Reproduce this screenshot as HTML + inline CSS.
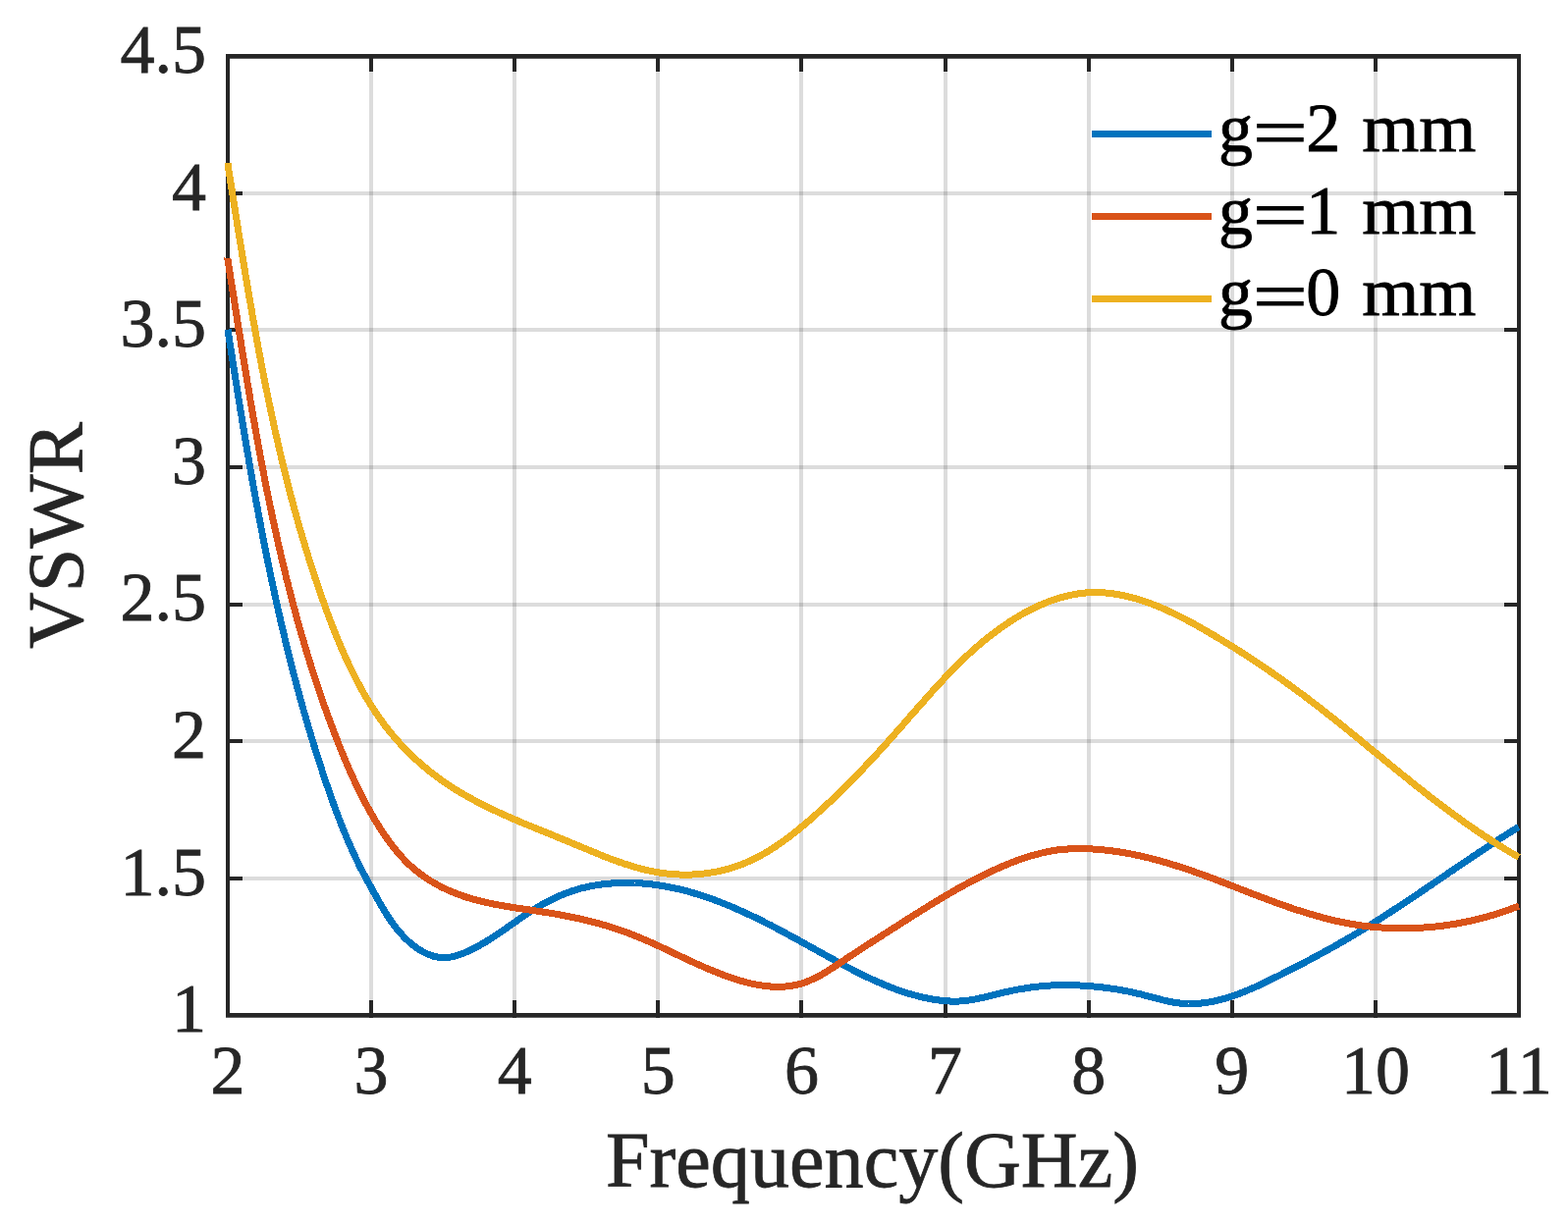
<!DOCTYPE html><html><head><meta charset="utf-8"><title>VSWR</title><style>html,body{margin:0;padding:0;background:#fff;overflow:hidden}svg{display:block}</style></head><body><svg width="1597" height="1248" viewBox="0 0 1597 1248">
<rect width="1597" height="1248" fill="#fff"/>
<path d="M378,59.7V1032.1 M524,59.7V1032.1 M670,59.7V1032.1 M816,59.7V1032.1 M963,59.7V1032.1 M1109,59.7V1032.1 M1255,59.7V1032.1 M1401,59.7V1032.1" stroke="#262626" stroke-opacity="0.16" stroke-width="4" fill="none"/>
<path d="M234,895H1545 M234,755H1545 M234,616H1545 M234,476H1545 M234,336H1545 M234,197H1545" stroke="#262626" stroke-opacity="0.16" stroke-width="4" fill="none"/>
<path d="M378,1037V1019 M378,55V73 M524,1037V1019 M524,55V73 M670,1037V1019 M670,55V73 M816,1037V1019 M816,55V73 M963,1037V1019 M963,55V73 M1109,1037V1019 M1109,55V73 M1255,1037V1019 M1255,55V73 M1401,1037V1019 M1401,55V73 M230,895H247 M1549,895H1532 M230,755H247 M1549,755H1532 M230,616H247 M1549,616H1532 M230,476H247 M1549,476H1532 M230,336H247 M1549,336H1532 M230,197H247 M1549,197H1532" stroke="#262626" stroke-width="4" fill="none"/>
<path d="M230,55H1549V59.7H230Z M230,1032.1H1549V1036.8H230Z M230,55H234V1036.8H230Z M1545,55H1549V1036.8H1545Z" fill="#262626"/>
<path d="M232.0,335.6 L232.2,337.1 L232.4,338.7 L232.7,340.2 L232.9,341.8 L233.2,343.3 L233.4,344.9 L233.6,346.4 L233.9,348.0 L234.1,349.5 L234.4,351.1 L234.6,352.6 L234.9,354.2 L235.1,355.7 L235.3,357.3 L235.6,358.8 L235.8,360.4 L236.1,361.9 L236.3,363.5 L236.5,365.0 L236.8,366.6 L237.0,368.1 L237.3,369.7 L237.5,371.2 L237.8,372.8 L238.0,374.4 L238.3,375.9 L238.5,377.5 L238.7,379.0 L239.0,380.6 L239.2,382.1 L239.5,383.7 L239.7,385.2 L240.0,386.8 L240.2,388.3 L240.5,389.9 L240.7,391.4 L241.0,393.0 L241.2,394.5 L241.4,396.1 L241.7,397.6 L241.9,399.2 L242.2,400.7 L242.4,402.3 L242.7,403.8 L242.9,405.4 L243.2,407.0 L243.4,408.5 L243.7,410.1 L243.9,411.6 L244.2,413.2 L244.4,414.7 L244.7,416.3 L244.9,417.8 L245.2,419.4 L245.4,420.9 L245.7,422.5 L246.0,424.0 L246.2,425.6 L246.5,427.1 L246.7,428.7 L247.0,430.3 L247.2,431.8 L247.5,433.4 L247.7,434.9 L248.0,436.5 L248.3,438.0 L248.5,439.6 L248.8,441.1 L249.0,442.7 L249.3,444.2 L249.6,445.8 L249.8,447.3 L250.1,448.9 L250.3,450.5 L250.6,452.0 L250.9,453.6 L251.1,455.1 L251.4,456.7 L251.6,458.2 L251.9,459.8 L252.2,461.3 L252.4,462.9 L252.7,464.4 L253.0,466.0 L253.2,467.5 L253.5,469.1 L253.8,470.6 L254.0,472.2 L254.3,473.8 L254.6,475.3 L254.9,476.9 L255.1,478.4 L255.4,480.0 L255.7,481.5 L255.9,483.1 L256.2,484.6 L256.5,486.2 L256.8,487.7 L257.0,489.3 L257.3,490.8 L257.6,492.4 L257.9,493.9 L258.1,495.5 L258.4,497.0 L258.7,498.6 L259.0,500.1 L259.3,501.7 L259.5,503.2 L259.8,504.8 L260.1,506.3 L260.4,507.9 L260.7,509.5 L260.9,511.0 L261.2,512.6 L261.5,514.1 L261.8,515.7 L262.1,517.2 L262.4,518.8 L262.7,520.3 L263.0,521.9 L263.2,523.4 L263.5,525.0 L263.8,526.5 L264.1,528.1 L264.4,529.6 L264.7,531.2 L265.0,532.7 L265.3,534.3 L265.6,535.8 L265.9,537.4 L266.2,538.9 L266.5,540.4 L266.8,542.0 L267.1,543.5 L267.4,545.1 L267.7,546.6 L268.0,548.2 L268.3,549.7 L268.6,551.3 L268.9,552.8 L269.2,554.4 L269.5,555.9 L269.8,557.5 L270.1,559.0 L270.4,560.6 L270.7,562.1 L271.0,563.7 L271.4,565.2 L271.7,566.7 L272.0,568.3 L272.3,569.8 L272.6,571.4 L272.9,572.9 L273.2,574.5 L273.6,576.0 L273.9,577.6 L274.2,579.1 L274.5,580.6 L274.8,582.2 L275.2,583.7 L275.5,585.3 L275.8,586.8 L276.1,588.4 L276.5,589.9 L276.8,591.4 L277.1,593.0 L277.4,594.5 L277.8,596.1 L278.1,597.6 L278.4,599.2 L278.8,600.7 L279.1,602.2 L279.4,603.8 L279.8,605.3 L280.1,606.9 L280.4,608.4 L280.8,609.9 L281.1,611.5 L281.5,613.0 L281.8,614.6 L282.1,616.1 L282.5,617.6 L282.8,619.2 L283.2,620.7 L283.5,622.2 L283.9,623.8 L284.2,625.3 L284.6,626.8 L284.9,628.4 L285.3,629.9 L285.6,631.5 L286.0,633.0 L286.3,634.5 L286.7,636.1 L287.1,637.6 L287.4,639.1 L287.8,640.7 L288.1,642.2 L288.5,643.7 L288.9,645.3 L289.2,646.8 L289.6,648.3 L290.0,649.9 L290.3,651.4 L290.7,652.9 L291.1,654.5 L291.4,656.0 L291.8,657.5 L292.2,659.0 L292.6,660.6 L292.9,662.1 L293.3,663.6 L293.7,665.2 L294.1,666.7 L294.4,668.2 L294.8,669.7 L295.2,671.3 L295.6,672.8 L296.0,674.3 L296.4,675.8 L296.8,677.4 L297.1,678.9 L297.5,680.4 L297.9,681.9 L298.3,683.5 L298.7,685.0 L299.1,686.5 L299.5,688.0 L299.9,689.6 L300.3,691.1 L300.7,692.6 L301.1,694.1 L301.5,695.6 L301.9,697.2 L302.3,698.7 L302.7,700.2 L303.1,701.7 L303.6,703.2 L304.0,704.8 L304.4,706.3 L304.8,707.8 L305.2,709.3 L305.6,710.8 L306.1,712.4 L306.5,713.9 L306.9,715.4 L307.3,716.9 L307.7,718.4 L308.2,719.9 L308.6,721.4 L309.0,723.0 L309.4,724.5 L309.9,726.0 L310.3,727.5 L310.7,729.0 L311.2,730.5 L311.6,732.0 L312.1,733.5 L312.5,735.0 L312.9,736.6 L313.4,738.1 L313.8,739.6 L314.3,741.1 L314.7,742.6 L315.2,744.1 L315.6,745.6 L316.1,747.1 L316.5,748.6 L317.0,750.1 L317.4,751.6 L317.9,753.1 L318.3,754.6 L318.8,756.1 L319.3,757.6 L319.7,759.1 L320.2,760.6 L320.7,762.2 L321.1,763.7 L321.6,765.2 L322.1,766.7 L322.5,768.2 L323.0,769.7 L323.5,771.2 L324.0,772.6 L324.5,774.1 L324.9,775.6 L325.4,777.1 L325.9,778.6 L326.4,780.1 L326.9,781.6 L327.4,783.1 L327.9,784.6 L328.3,786.1 L328.8,787.6 L329.3,789.1 L329.8,790.6 L330.3,792.1 L330.8,793.6 L331.3,795.1 L331.8,796.5 L332.3,798.0 L332.8,799.5 L333.4,801.0 L333.9,802.5 L334.4,804.0 L334.9,805.5 L335.4,807.0 L335.9,808.4 L336.4,809.9 L337.0,811.4 L337.5,812.9 L338.0,814.4 L338.5,815.9 L339.1,817.3 L339.6,818.8 L340.1,820.3 L340.7,821.8 L341.2,823.2 L341.8,824.7 L342.3,826.2 L342.9,827.7 L343.4,829.1 L344.0,830.6 L344.5,832.1 L345.1,833.5 L345.7,835.0 L346.2,836.5 L346.8,837.9 L347.4,839.4 L347.9,840.9 L348.5,842.3 L349.1,843.8 L349.7,845.2 L350.3,846.7 L350.9,848.1 L351.5,849.6 L352.1,851.0 L352.7,852.5 L353.3,853.9 L353.9,855.4 L354.5,856.8 L355.2,858.3 L355.8,859.7 L356.4,861.1 L357.0,862.6 L357.7,864.0 L358.3,865.4 L359.0,866.9 L359.6,868.3 L360.3,869.7 L361.0,871.2 L361.6,872.6 L362.3,874.0 L363.0,875.4 L363.6,876.8 L364.3,878.2 L365.0,879.6 L365.7,881.1 L366.4,882.5 L367.1,883.9 L367.8,885.3 L368.6,886.7 L369.3,888.1 L370.0,889.5 L370.7,890.8 L371.5,892.2 L372.2,893.6 L373.0,895.0 L373.7,896.4 L374.5,897.8 L375.3,899.1 L376.0,900.5 L376.8,901.9 L377.6,903.3 L378.3,904.7 L379.1,906.1 L379.9,907.5 L380.6,908.9 L381.4,910.3 L382.2,911.7 L382.9,913.1 L383.7,914.5 L384.5,915.9 L385.3,917.2 L386.1,918.6 L386.9,920.0 L387.7,921.4 L388.5,922.8 L389.3,924.2 L390.1,925.6 L390.9,926.9 L391.8,928.3 L392.6,929.7 L393.4,931.0 L394.3,932.4 L395.2,933.7 L396.0,935.0 L396.9,936.4 L397.8,937.7 L398.7,939.0 L399.6,940.3 L400.6,941.5 L401.5,942.8 L402.5,944.1 L403.4,945.3 L404.4,946.6 L405.4,947.8 L406.4,949.0 L407.4,950.2 L408.5,951.4 L409.5,952.5 L410.6,953.7 L411.7,954.8 L412.8,955.9 L413.9,957.0 L415.1,958.1 L416.2,959.2 L417.4,960.2 L418.6,961.2 L419.8,962.2 L421.1,963.2 L422.3,964.2 L423.6,965.1 L424.9,966.0 L426.2,966.9 L427.6,967.8 L428.9,968.6 L430.3,969.4 L431.7,970.1 L433.0,970.8 L434.5,971.5 L435.9,972.1 L437.3,972.7 L438.7,973.2 L440.2,973.7 L441.6,974.2 L443.1,974.5 L444.6,974.9 L446.1,975.1 L447.6,975.3 L449.0,975.5 L450.5,975.6 L452.0,975.6 L453.6,975.6 L455.1,975.5 L456.6,975.3 L458.1,975.1 L459.6,974.9 L461.1,974.6 L462.6,974.2 L464.1,973.8 L465.6,973.4 L467.1,972.9 L468.6,972.4 L470.1,971.9 L471.6,971.3 L473.1,970.7 L474.6,970.1 L476.0,969.4 L477.5,968.7 L479.0,968.1 L480.4,967.4 L481.8,966.7 L483.3,965.9 L484.7,965.2 L486.1,964.4 L487.5,963.7 L488.9,962.9 L490.2,962.1 L491.6,961.3 L493.0,960.5 L494.4,959.7 L495.7,958.9 L497.1,958.0 L498.4,957.2 L499.7,956.3 L501.1,955.5 L502.4,954.6 L503.7,953.8 L505.0,952.9 L506.3,952.0 L507.7,951.1 L509.0,950.2 L510.3,949.3 L511.6,948.4 L512.9,947.5 L514.2,946.6 L515.5,945.7 L516.8,944.8 L518.1,943.9 L519.3,943.0 L520.6,942.1 L521.9,941.2 L523.2,940.3 L524.5,939.4 L525.8,938.5 L527.1,937.6 L528.4,936.7 L529.7,935.8 L531.0,934.9 L532.3,934.0 L533.6,933.1 L534.9,932.3 L536.3,931.4 L537.6,930.5 L538.9,929.6 L540.2,928.8 L541.6,927.9 L542.9,927.1 L544.3,926.3 L545.6,925.4 L547.0,924.6 L548.3,923.8 L549.7,923.0 L551.1,922.2 L552.4,921.4 L553.8,920.7 L555.2,919.9 L556.6,919.2 L558.0,918.4 L559.4,917.7 L560.8,917.0 L562.2,916.3 L563.6,915.6 L565.0,914.9 L566.5,914.2 L567.9,913.6 L569.3,912.9 L570.8,912.3 L572.2,911.7 L573.7,911.1 L575.2,910.5 L576.6,910.0 L578.1,909.4 L579.6,908.9 L581.1,908.3 L582.5,907.8 L584.0,907.4 L585.5,906.9 L587.0,906.4 L588.6,906.0 L590.1,905.6 L591.6,905.1 L593.1,904.7 L594.6,904.4 L596.2,904.0 L597.7,903.6 L599.3,903.3 L600.8,903.0 L602.3,902.7 L603.9,902.4 L605.5,902.1 L607.0,901.8 L608.6,901.6 L610.1,901.4 L611.7,901.1 L613.3,900.9 L614.8,900.7 L616.4,900.5 L618.0,900.4 L619.6,900.2 L621.1,900.1 L622.7,900.0 L624.3,899.8 L625.9,899.7 L627.5,899.6 L629.0,899.6 L630.6,899.5 L632.2,899.5 L633.8,899.4 L635.4,899.4 L637.0,899.4 L638.5,899.4 L640.1,899.4 L641.7,899.4 L643.3,899.4 L644.9,899.5 L646.5,899.6 L648.0,899.6 L649.6,899.7 L651.2,899.8 L652.8,899.9 L654.3,900.0 L655.9,900.1 L657.5,900.3 L659.0,900.4 L660.6,900.6 L662.2,900.7 L663.7,900.9 L665.3,901.1 L666.8,901.3 L668.4,901.5 L669.9,901.7 L671.5,902.0 L673.0,902.2 L674.6,902.5 L676.1,902.7 L677.6,903.0 L679.2,903.3 L680.7,903.6 L682.2,903.9 L683.8,904.2 L685.3,904.5 L686.8,904.8 L688.3,905.1 L689.9,905.5 L691.4,905.8 L692.9,906.2 L694.4,906.6 L695.9,906.9 L697.4,907.3 L698.9,907.7 L700.4,908.1 L701.9,908.5 L703.4,909.0 L704.9,909.4 L706.4,909.8 L707.9,910.3 L709.4,910.7 L710.9,911.2 L712.4,911.6 L713.9,912.1 L715.4,912.6 L716.8,913.1 L718.3,913.6 L719.8,914.1 L721.3,914.6 L722.7,915.1 L724.2,915.6 L725.7,916.2 L727.2,916.7 L728.6,917.2 L730.1,917.8 L731.6,918.4 L733.0,918.9 L734.5,919.5 L735.9,920.1 L737.4,920.6 L738.8,921.2 L740.3,921.8 L741.8,922.4 L743.2,923.0 L744.7,923.6 L746.1,924.2 L747.5,924.9 L749.0,925.5 L750.4,926.1 L751.9,926.8 L753.3,927.4 L754.7,928.0 L756.2,928.7 L757.6,929.3 L759.1,930.0 L760.5,930.7 L761.9,931.3 L763.3,932.0 L764.8,932.7 L766.2,933.4 L767.6,934.0 L769.1,934.7 L770.5,935.4 L771.9,936.1 L773.3,936.8 L774.7,937.5 L776.2,938.2 L777.6,938.9 L779.0,939.7 L780.4,940.4 L781.8,941.1 L783.2,941.8 L784.7,942.5 L786.1,943.3 L787.5,944.0 L788.9,944.7 L790.3,945.5 L791.7,946.2 L793.1,947.0 L794.5,947.7 L795.9,948.5 L797.3,949.2 L798.7,950.0 L800.1,950.7 L801.5,951.5 L802.9,952.2 L804.3,953.0 L805.7,953.7 L807.1,954.5 L808.5,955.3 L809.9,956.0 L811.3,956.8 L812.7,957.5 L814.1,958.3 L815.5,959.1 L816.9,959.9 L818.3,960.6 L819.7,961.4 L821.1,962.2 L822.4,962.9 L823.8,963.7 L825.2,964.5 L826.6,965.2 L828.0,966.0 L829.4,966.8 L830.8,967.6 L832.2,968.3 L833.6,969.1 L834.9,969.9 L836.3,970.6 L837.7,971.4 L839.1,972.2 L840.5,973.0 L841.9,973.7 L843.2,974.5 L844.6,975.3 L846.0,976.0 L847.4,976.8 L848.8,977.5 L850.2,978.3 L851.5,979.1 L852.9,979.8 L854.3,980.6 L855.7,981.3 L857.1,982.1 L858.5,982.8 L859.9,983.6 L861.2,984.3 L862.6,985.0 L864.0,985.8 L865.4,986.5 L866.8,987.2 L868.2,988.0 L869.6,988.7 L871.0,989.4 L872.4,990.1 L873.8,990.8 L875.2,991.5 L876.6,992.2 L878.0,992.9 L879.4,993.6 L880.8,994.3 L882.2,995.0 L883.6,995.6 L885.0,996.3 L886.4,997.0 L887.8,997.6 L889.3,998.3 L890.7,998.9 L892.1,999.6 L893.5,1000.2 L895.0,1000.8 L896.4,1001.4 L897.8,1002.0 L899.2,1002.7 L900.7,1003.3 L902.1,1003.8 L903.6,1004.4 L905.0,1005.0 L906.5,1005.6 L907.9,1006.1 L909.4,1006.7 L910.8,1007.2 L912.3,1007.8 L913.7,1008.3 L915.2,1008.8 L916.7,1009.3 L918.2,1009.8 L919.6,1010.3 L921.1,1010.8 L922.6,1011.3 L924.1,1011.8 L925.6,1012.2 L927.1,1012.7 L928.6,1013.1 L930.1,1013.5 L931.6,1013.9 L933.1,1014.3 L934.6,1014.7 L936.2,1015.1 L937.7,1015.5 L939.2,1015.9 L940.8,1016.2 L942.3,1016.6 L943.9,1016.9 L945.4,1017.2 L947.0,1017.5 L948.5,1017.8 L950.1,1018.1 L951.6,1018.3 L953.2,1018.6 L954.8,1018.8 L956.4,1019.0 L957.9,1019.2 L959.5,1019.4 L961.1,1019.6 L962.7,1019.7 L964.2,1019.8 L965.8,1019.9 L967.4,1020.0 L969.0,1020.1 L970.5,1020.1 L972.1,1020.1 L973.7,1020.1 L975.3,1020.1 L976.8,1020.0 L978.4,1019.9 L980.0,1019.8 L981.5,1019.7 L983.1,1019.5 L984.6,1019.3 L986.2,1019.1 L987.8,1018.9 L989.3,1018.7 L990.9,1018.4 L992.4,1018.1 L994.0,1017.8 L995.5,1017.5 L997.1,1017.2 L998.6,1016.8 L1000.1,1016.5 L1001.7,1016.1 L1003.2,1015.8 L1004.8,1015.4 L1006.3,1015.0 L1007.8,1014.6 L1009.4,1014.2 L1010.9,1013.9 L1012.5,1013.5 L1014.0,1013.1 L1015.5,1012.7 L1017.1,1012.3 L1018.6,1011.9 L1020.2,1011.6 L1021.7,1011.2 L1023.2,1010.9 L1024.8,1010.5 L1026.3,1010.2 L1027.9,1009.8 L1029.4,1009.5 L1031.0,1009.2 L1032.5,1008.9 L1034.1,1008.6 L1035.6,1008.3 L1037.2,1008.0 L1038.7,1007.7 L1040.3,1007.5 L1041.8,1007.2 L1043.4,1007.0 L1044.9,1006.7 L1046.5,1006.5 L1048.0,1006.3 L1049.6,1006.0 L1051.1,1005.8 L1052.7,1005.6 L1054.2,1005.4 L1055.8,1005.3 L1057.4,1005.1 L1058.9,1004.9 L1060.5,1004.8 L1062.1,1004.6 L1063.6,1004.5 L1065.2,1004.4 L1066.8,1004.2 L1068.3,1004.1 L1069.9,1004.0 L1071.5,1003.9 L1073.0,1003.9 L1074.6,1003.8 L1076.2,1003.7 L1077.8,1003.7 L1079.3,1003.6 L1080.9,1003.6 L1082.5,1003.6 L1084.1,1003.6 L1085.7,1003.6 L1087.2,1003.6 L1088.8,1003.6 L1090.4,1003.6 L1092.0,1003.7 L1093.6,1003.7 L1095.2,1003.8 L1096.7,1003.8 L1098.3,1003.9 L1099.9,1004.0 L1101.5,1004.1 L1103.1,1004.2 L1104.6,1004.3 L1106.2,1004.4 L1107.8,1004.5 L1109.3,1004.6 L1110.9,1004.7 L1112.5,1004.9 L1114.0,1005.0 L1115.6,1005.2 L1117.2,1005.3 L1118.7,1005.5 L1120.3,1005.7 L1121.8,1005.8 L1123.4,1006.0 L1124.9,1006.2 L1126.4,1006.4 L1128.0,1006.6 L1129.5,1006.8 L1131.1,1007.0 L1132.6,1007.2 L1134.1,1007.4 L1135.7,1007.7 L1137.2,1007.9 L1138.7,1008.1 L1140.2,1008.4 L1141.8,1008.7 L1143.3,1008.9 L1144.8,1009.2 L1146.4,1009.5 L1147.9,1009.8 L1149.4,1010.1 L1151.0,1010.4 L1152.5,1010.8 L1154.0,1011.1 L1155.6,1011.4 L1157.1,1011.8 L1158.7,1012.2 L1160.2,1012.5 L1161.8,1012.9 L1163.4,1013.3 L1164.9,1013.7 L1166.5,1014.2 L1168.1,1014.6 L1169.6,1015.0 L1171.2,1015.4 L1172.8,1015.8 L1174.3,1016.3 L1175.9,1016.7 L1177.5,1017.1 L1179.1,1017.5 L1180.7,1017.9 L1182.2,1018.3 L1183.8,1018.7 L1185.4,1019.1 L1187.0,1019.5 L1188.6,1019.8 L1190.2,1020.1 L1191.7,1020.5 L1193.3,1020.8 L1194.9,1021.1 L1196.5,1021.3 L1198.0,1021.6 L1199.6,1021.8 L1201.2,1022.0 L1202.7,1022.1 L1204.3,1022.3 L1205.8,1022.4 L1207.4,1022.5 L1208.9,1022.5 L1210.5,1022.6 L1212.0,1022.6 L1213.6,1022.6 L1215.1,1022.6 L1216.7,1022.5 L1218.2,1022.4 L1219.7,1022.4 L1221.3,1022.2 L1222.8,1022.1 L1224.3,1021.9 L1225.9,1021.8 L1227.4,1021.6 L1228.9,1021.4 L1230.4,1021.1 L1231.9,1020.9 L1233.4,1020.6 L1234.9,1020.3 L1236.5,1020.0 L1238.0,1019.7 L1239.5,1019.3 L1241.0,1019.0 L1242.5,1018.6 L1244.0,1018.2 L1245.5,1017.8 L1246.9,1017.4 L1248.4,1017.0 L1249.9,1016.5 L1251.4,1016.0 L1252.9,1015.6 L1254.4,1015.1 L1255.8,1014.6 L1257.3,1014.1 L1258.8,1013.5 L1260.3,1013.0 L1261.7,1012.5 L1263.2,1011.9 L1264.7,1011.3 L1266.1,1010.7 L1267.6,1010.2 L1269.1,1009.6 L1270.5,1009.0 L1272.0,1008.3 L1273.4,1007.7 L1274.9,1007.1 L1276.3,1006.4 L1277.8,1005.8 L1279.2,1005.1 L1280.7,1004.5 L1282.1,1003.8 L1283.6,1003.1 L1285.0,1002.5 L1286.5,1001.8 L1287.9,1001.1 L1289.3,1000.4 L1290.8,999.7 L1292.2,999.0 L1293.6,998.3 L1295.1,997.6 L1296.5,996.9 L1297.9,996.2 L1299.3,995.5 L1300.8,994.8 L1302.2,994.1 L1303.6,993.4 L1305.0,992.7 L1306.5,991.9 L1307.9,991.2 L1309.3,990.5 L1310.7,989.8 L1312.1,989.1 L1313.5,988.4 L1314.9,987.7 L1316.3,986.9 L1317.7,986.2 L1319.2,985.5 L1320.6,984.8 L1322.0,984.0 L1323.4,983.3 L1324.8,982.6 L1326.2,981.9 L1327.6,981.1 L1329.0,980.4 L1330.3,979.7 L1331.7,978.9 L1333.1,978.2 L1334.5,977.5 L1335.9,976.7 L1337.3,976.0 L1338.7,975.2 L1340.1,974.5 L1341.5,973.7 L1342.8,973.0 L1344.2,972.2 L1345.6,971.5 L1347.0,970.7 L1348.4,970.0 L1349.7,969.2 L1351.1,968.5 L1352.5,967.7 L1353.9,967.0 L1355.2,966.2 L1356.6,965.4 L1358.0,964.7 L1359.3,963.9 L1360.7,963.1 L1362.1,962.3 L1363.4,961.6 L1364.8,960.8 L1366.1,960.0 L1367.5,959.2 L1368.9,958.4 L1370.2,957.7 L1371.6,956.9 L1372.9,956.1 L1374.3,955.3 L1375.6,954.5 L1377.0,953.7 L1378.3,952.9 L1379.7,952.1 L1381.0,951.3 L1382.4,950.5 L1383.7,949.7 L1385.0,948.8 L1386.4,948.0 L1387.7,947.2 L1389.1,946.4 L1390.4,945.6 L1391.7,944.7 L1393.1,943.9 L1394.4,943.1 L1395.7,942.3 L1397.1,941.4 L1398.4,940.6 L1399.7,939.8 L1401.1,938.9 L1402.4,938.1 L1403.7,937.2 L1405.1,936.4 L1406.4,935.5 L1407.7,934.7 L1409.0,933.8 L1410.3,933.0 L1411.7,932.1 L1413.0,931.3 L1414.3,930.4 L1415.6,929.6 L1417.0,928.7 L1418.3,927.9 L1419.6,927.0 L1420.9,926.1 L1422.2,925.3 L1423.5,924.4 L1424.8,923.5 L1426.2,922.7 L1427.5,921.8 L1428.8,920.9 L1430.1,920.1 L1431.4,919.2 L1432.7,918.3 L1434.0,917.4 L1435.3,916.6 L1436.7,915.7 L1438.0,914.8 L1439.3,913.9 L1440.6,913.0 L1441.9,912.2 L1443.2,911.3 L1444.5,910.4 L1445.8,909.5 L1447.1,908.6 L1448.4,907.8 L1449.7,906.9 L1451.0,906.0 L1452.3,905.1 L1453.6,904.2 L1455.0,903.3 L1456.3,902.4 L1457.6,901.6 L1458.9,900.7 L1460.2,899.8 L1461.5,898.9 L1462.8,898.0 L1464.1,897.1 L1465.4,896.2 L1466.7,895.3 L1468.0,894.5 L1469.3,893.6 L1470.6,892.7 L1471.9,891.8 L1473.2,890.9 L1474.5,890.0 L1475.8,889.1 L1477.1,888.2 L1478.4,887.4 L1479.7,886.5 L1481.0,885.6 L1482.3,884.7 L1483.6,883.8 L1484.9,882.9 L1486.2,882.0 L1487.5,881.2 L1488.8,880.3 L1490.2,879.4 L1491.5,878.5 L1492.8,877.6 L1494.1,876.7 L1495.4,875.9 L1496.7,875.0 L1498.0,874.1 L1499.3,873.2 L1500.6,872.3 L1501.9,871.5 L1503.2,870.6 L1504.5,869.7 L1505.8,868.8 L1507.1,868.0 L1508.5,867.1 L1509.8,866.2 L1511.1,865.4 L1512.4,864.5 L1513.7,863.6 L1515.0,862.8 L1516.3,861.9 L1517.6,861.0 L1519.0,860.2 L1520.3,859.3 L1521.6,858.5 L1522.9,857.6 L1524.2,856.7 L1525.6,855.9 L1526.9,855.0 L1528.2,854.2 L1529.5,853.3 L1530.8,852.5 L1532.2,851.7 L1533.5,850.8 L1534.8,850.0 L1536.1,849.1 L1537.5,848.3 L1538.8,847.5 L1540.1,846.6 L1541.4,845.8 L1542.8,845.0 L1544.1,844.1 L1545.4,843.3 L1547.0,842.5" stroke="#0072BD" stroke-width="7" fill="none" stroke-linejoin="round" shape-rendering="crispEdges"/>
<path d="M232.0,262.7 L231.9,264.2 L232.2,265.7 L232.4,267.2 L232.6,268.7 L232.9,270.3 L233.1,271.8 L233.4,273.3 L233.6,274.8 L233.8,276.4 L234.1,277.9 L234.3,279.4 L234.6,280.9 L234.8,282.5 L235.0,284.0 L235.3,285.5 L235.5,287.0 L235.8,288.6 L236.0,290.1 L236.2,291.6 L236.5,293.1 L236.7,294.7 L237.0,296.2 L237.2,297.7 L237.4,299.2 L237.7,300.8 L237.9,302.3 L238.2,303.8 L238.4,305.3 L238.7,306.9 L238.9,308.4 L239.1,309.9 L239.4,311.4 L239.6,313.0 L239.9,314.5 L240.1,316.0 L240.3,317.5 L240.6,319.1 L240.8,320.6 L241.1,322.1 L241.3,323.7 L241.5,325.2 L241.8,326.7 L242.0,328.2 L242.3,329.8 L242.5,331.3 L242.8,332.8 L243.0,334.4 L243.2,335.9 L243.5,337.4 L243.7,338.9 L244.0,340.5 L244.2,342.0 L244.5,343.5 L244.7,345.1 L245.0,346.6 L245.2,348.1 L245.4,349.6 L245.7,351.2 L245.9,352.7 L246.2,354.2 L246.4,355.8 L246.7,357.3 L246.9,358.8 L247.2,360.3 L247.4,361.9 L247.7,363.4 L247.9,364.9 L248.2,366.5 L248.4,368.0 L248.7,369.5 L248.9,371.1 L249.2,372.6 L249.4,374.1 L249.7,375.6 L249.9,377.2 L250.2,378.7 L250.4,380.2 L250.7,381.8 L250.9,383.3 L251.2,384.8 L251.4,386.3 L251.7,387.9 L251.9,389.4 L252.2,390.9 L252.4,392.5 L252.7,394.0 L253.0,395.5 L253.2,397.1 L253.5,398.6 L253.7,400.1 L254.0,401.6 L254.2,403.2 L254.5,404.7 L254.8,406.2 L255.0,407.8 L255.3,409.3 L255.5,410.8 L255.8,412.3 L256.1,413.9 L256.3,415.4 L256.6,416.9 L256.9,418.5 L257.1,420.0 L257.4,421.5 L257.7,423.0 L257.9,424.6 L258.2,426.1 L258.5,427.6 L258.7,429.2 L259.0,430.7 L259.3,432.2 L259.5,433.7 L259.8,435.3 L260.1,436.8 L260.3,438.3 L260.6,439.9 L260.9,441.4 L261.2,442.9 L261.4,444.4 L261.7,446.0 L262.0,447.5 L262.3,449.0 L262.5,450.5 L262.8,452.1 L263.1,453.6 L263.4,455.1 L263.7,456.6 L263.9,458.2 L264.2,459.7 L264.5,461.2 L264.8,462.8 L265.1,464.3 L265.4,465.8 L265.6,467.3 L265.9,468.9 L266.2,470.4 L266.5,471.9 L266.8,473.4 L267.1,475.0 L267.4,476.5 L267.7,478.0 L268.0,479.5 L268.3,481.0 L268.5,482.6 L268.8,484.1 L269.1,485.6 L269.4,487.1 L269.7,488.7 L270.0,490.2 L270.3,491.7 L270.6,493.2 L270.9,494.7 L271.2,496.3 L271.5,497.8 L271.8,499.3 L272.1,500.8 L272.4,502.4 L272.8,503.9 L273.1,505.4 L273.4,506.9 L273.7,508.4 L274.0,510.0 L274.3,511.5 L274.6,513.0 L274.9,514.5 L275.2,516.0 L275.6,517.5 L275.9,519.1 L276.2,520.6 L276.5,522.1 L276.8,523.6 L277.2,525.1 L277.5,526.7 L277.8,528.2 L278.1,529.7 L278.4,531.2 L278.8,532.7 L279.1,534.2 L279.4,535.7 L279.8,537.3 L280.1,538.8 L280.4,540.3 L280.8,541.8 L281.1,543.3 L281.4,544.8 L281.8,546.3 L282.1,547.9 L282.4,549.4 L282.8,550.9 L283.1,552.4 L283.5,553.9 L283.8,555.4 L284.1,556.9 L284.5,558.4 L284.8,560.0 L285.2,561.5 L285.5,563.0 L285.9,564.5 L286.2,566.0 L286.6,567.5 L286.9,569.0 L287.3,570.5 L287.7,572.0 L288.0,573.5 L288.4,575.0 L288.7,576.5 L289.1,578.0 L289.5,579.6 L289.8,581.1 L290.2,582.6 L290.5,584.1 L290.9,585.6 L291.3,587.1 L291.7,588.6 L292.0,590.1 L292.4,591.6 L292.8,593.1 L293.2,594.6 L293.5,596.1 L293.9,597.6 L294.3,599.1 L294.7,600.6 L295.1,602.1 L295.4,603.6 L295.8,605.1 L296.2,606.6 L296.6,608.1 L297.0,609.6 L297.4,611.1 L297.8,612.6 L298.2,614.1 L298.6,615.6 L299.0,617.1 L299.4,618.6 L299.8,620.1 L300.2,621.6 L300.6,623.1 L301.0,624.5 L301.4,626.0 L301.8,627.5 L302.2,629.0 L302.6,630.5 L303.0,632.0 L303.4,633.5 L303.9,635.0 L304.3,636.5 L304.7,638.0 L305.1,639.5 L305.5,640.9 L306.0,642.4 L306.4,643.9 L306.8,645.4 L307.2,646.9 L307.7,648.4 L308.1,649.9 L308.5,651.4 L309.0,652.8 L309.4,654.3 L309.8,655.8 L310.3,657.3 L310.7,658.8 L311.2,660.3 L311.6,661.7 L312.1,663.2 L312.5,664.7 L313.0,666.2 L313.4,667.7 L313.9,669.1 L314.3,670.6 L314.8,672.1 L315.2,673.6 L315.7,675.1 L316.2,676.5 L316.6,678.0 L317.1,679.5 L317.6,681.0 L318.0,682.4 L318.5,683.9 L319.0,685.4 L319.4,686.8 L319.9,688.3 L320.4,689.8 L320.9,691.3 L321.4,692.7 L321.8,694.2 L322.3,695.7 L322.8,697.1 L323.3,698.6 L323.8,700.1 L324.3,701.5 L324.8,703.0 L325.3,704.5 L325.8,705.9 L326.3,707.4 L326.8,708.9 L327.3,710.3 L327.8,711.8 L328.3,713.3 L328.8,714.7 L329.3,716.2 L329.8,717.6 L330.3,719.1 L330.9,720.6 L331.4,722.0 L331.9,723.5 L332.4,724.9 L333.0,726.4 L333.5,727.8 L334.0,729.3 L334.5,730.8 L335.1,732.2 L335.6,733.7 L336.1,735.1 L336.7,736.6 L337.2,738.0 L337.8,739.5 L338.3,740.9 L338.9,742.4 L339.4,743.8 L340.0,745.3 L340.5,746.7 L341.1,748.2 L341.6,749.6 L342.2,751.0 L342.8,752.5 L343.3,753.9 L343.9,755.4 L344.5,756.8 L345.0,758.3 L345.6,759.7 L346.2,761.1 L346.8,762.6 L347.3,764.0 L347.9,765.5 L348.5,766.9 L349.1,768.3 L349.7,769.8 L350.3,771.2 L350.9,772.6 L351.5,774.1 L352.1,775.5 L352.7,776.9 L353.3,778.3 L353.9,779.8 L354.5,781.2 L355.1,782.6 L355.8,784.0 L356.4,785.5 L357.0,786.9 L357.6,788.3 L358.3,789.7 L358.9,791.1 L359.6,792.5 L360.2,793.9 L360.9,795.3 L361.5,796.7 L362.2,798.1 L362.8,799.5 L363.5,800.9 L364.2,802.3 L364.9,803.7 L365.5,805.1 L366.2,806.5 L366.9,807.9 L367.6,809.3 L368.3,810.7 L369.0,812.0 L369.7,813.4 L370.4,814.8 L371.1,816.2 L371.9,817.5 L372.6,818.9 L373.3,820.3 L374.1,821.6 L374.8,823.0 L375.6,824.3 L376.3,825.7 L377.1,827.0 L377.8,828.4 L378.6,829.7 L379.4,831.1 L380.2,832.4 L381.0,833.7 L381.7,835.1 L382.5,836.4 L383.4,837.7 L384.2,839.0 L385.0,840.4 L385.8,841.7 L386.6,843.0 L387.5,844.3 L388.3,845.6 L389.2,846.9 L390.0,848.2 L390.9,849.5 L391.7,850.8 L392.6,852.0 L393.5,853.3 L394.4,854.6 L395.3,855.9 L396.2,857.1 L397.1,858.4 L398.1,859.6 L399.0,860.8 L399.9,862.1 L400.9,863.3 L401.8,864.5 L402.8,865.7 L403.8,866.9 L404.8,868.1 L405.8,869.3 L406.8,870.5 L407.8,871.6 L408.9,872.8 L409.9,873.9 L411.0,875.0 L412.0,876.2 L413.1,877.3 L414.2,878.4 L415.3,879.4 L416.4,880.5 L417.6,881.6 L418.7,882.6 L419.9,883.6 L421.0,884.7 L422.2,885.7 L423.4,886.7 L424.6,887.6 L425.8,888.6 L427.1,889.5 L428.3,890.5 L429.6,891.4 L430.8,892.3 L432.1,893.2 L433.4,894.1 L434.7,895.0 L436.0,895.8 L437.3,896.6 L438.6,897.5 L440.0,898.3 L441.3,899.1 L442.7,899.9 L444.0,900.6 L445.4,901.4 L446.8,902.1 L448.1,902.9 L449.5,903.6 L450.9,904.3 L452.3,905.0 L453.7,905.6 L455.1,906.3 L456.5,906.9 L458.0,907.6 L459.4,908.2 L460.8,908.8 L462.2,909.4 L463.7,909.9 L465.1,910.5 L466.5,911.0 L468.0,911.6 L469.4,912.1 L470.9,912.6 L472.3,913.1 L473.8,913.6 L475.3,914.1 L476.7,914.5 L478.2,915.0 L479.7,915.4 L481.2,915.8 L482.6,916.3 L484.1,916.7 L485.6,917.1 L487.1,917.4 L488.6,917.8 L490.1,918.2 L491.6,918.6 L493.0,918.9 L494.5,919.3 L496.0,919.6 L497.6,919.9 L499.1,920.2 L500.6,920.6 L502.1,920.9 L503.6,921.2 L505.1,921.5 L506.6,921.7 L508.1,922.0 L509.6,922.3 L511.2,922.6 L512.7,922.9 L514.2,923.1 L515.7,923.4 L517.3,923.6 L518.8,923.9 L520.3,924.1 L521.8,924.4 L523.4,924.6 L524.9,924.9 L526.4,925.1 L528.0,925.3 L529.5,925.6 L531.0,925.8 L532.6,926.0 L534.1,926.3 L535.7,926.5 L537.2,926.7 L538.7,926.9 L540.3,927.2 L541.8,927.4 L543.4,927.6 L544.9,927.8 L546.4,928.1 L548.0,928.3 L549.5,928.5 L551.0,928.8 L552.6,929.0 L554.1,929.3 L555.7,929.5 L557.2,929.7 L558.7,930.0 L560.3,930.2 L561.8,930.5 L563.3,930.8 L564.9,931.0 L566.4,931.3 L567.9,931.6 L569.5,931.8 L571.0,932.1 L572.5,932.4 L574.1,932.7 L575.6,933.0 L577.1,933.3 L578.7,933.6 L580.2,933.9 L581.7,934.2 L583.2,934.5 L584.8,934.8 L586.3,935.2 L587.8,935.5 L589.3,935.8 L590.8,936.2 L592.3,936.5 L593.9,936.9 L595.4,937.2 L596.9,937.6 L598.4,938.0 L599.9,938.3 L601.4,938.7 L602.9,939.1 L604.4,939.5 L605.9,939.9 L607.4,940.3 L608.9,940.7 L610.4,941.1 L611.9,941.5 L613.4,941.9 L614.9,942.4 L616.4,942.8 L617.9,943.2 L619.3,943.7 L620.8,944.1 L622.3,944.6 L623.8,945.1 L625.2,945.5 L626.7,946.0 L628.2,946.5 L629.6,947.0 L631.1,947.5 L632.6,948.0 L634.0,948.5 L635.5,949.0 L636.9,949.5 L638.4,950.1 L639.8,950.6 L641.3,951.1 L642.7,951.7 L644.2,952.3 L645.6,952.8 L647.0,953.4 L648.5,954.0 L649.9,954.6 L651.3,955.2 L652.7,955.7 L654.2,956.3 L655.6,957.0 L657.0,957.6 L658.4,958.2 L659.8,958.8 L661.2,959.4 L662.7,960.0 L664.1,960.7 L665.5,961.3 L666.9,962.0 L668.3,962.6 L669.7,963.2 L671.1,963.9 L672.5,964.5 L673.9,965.2 L675.3,965.8 L676.7,966.5 L678.1,967.2 L679.5,967.8 L680.9,968.5 L682.3,969.1 L683.7,969.8 L685.1,970.5 L686.5,971.1 L687.9,971.8 L689.3,972.5 L690.7,973.1 L692.1,973.8 L693.5,974.5 L694.9,975.1 L696.3,975.8 L697.7,976.4 L699.1,977.1 L700.5,977.8 L701.9,978.4 L703.4,979.1 L704.8,979.7 L706.2,980.4 L707.6,981.0 L709.0,981.7 L710.4,982.3 L711.8,982.9 L713.2,983.6 L714.7,984.2 L716.1,984.8 L717.5,985.5 L718.9,986.1 L720.4,986.7 L721.8,987.3 L723.2,987.9 L724.7,988.5 L726.1,989.1 L727.5,989.7 L729.0,990.3 L730.4,990.8 L731.9,991.4 L733.3,992.0 L734.8,992.5 L736.3,993.1 L737.7,993.6 L739.2,994.2 L740.7,994.7 L742.1,995.2 L743.6,995.7 L745.1,996.3 L746.6,996.8 L748.0,997.2 L749.5,997.7 L751.0,998.2 L752.5,998.6 L754.0,999.1 L755.5,999.5 L757.0,999.9 L758.5,1000.4 L760.0,1000.8 L761.5,1001.1 L763.0,1001.5 L764.5,1001.9 L766.0,1002.2 L767.5,1002.5 L769.1,1002.8 L770.6,1003.1 L772.1,1003.4 L773.6,1003.7 L775.1,1003.9 L776.6,1004.1 L778.1,1004.3 L779.6,1004.5 L781.1,1004.7 L782.7,1004.8 L784.2,1005.0 L785.7,1005.1 L787.2,1005.2 L788.7,1005.2 L790.2,1005.3 L791.7,1005.3 L793.2,1005.3 L794.7,1005.3 L796.2,1005.2 L797.7,1005.2 L799.2,1005.1 L800.7,1004.9 L802.2,1004.8 L803.6,1004.6 L805.1,1004.4 L806.6,1004.2 L808.1,1003.9 L809.6,1003.6 L811.0,1003.3 L812.5,1003.0 L814.0,1002.6 L815.4,1002.2 L816.9,1001.8 L818.3,1001.3 L819.8,1000.8 L821.2,1000.3 L822.6,999.8 L824.1,999.2 L825.5,998.6 L826.9,997.9 L828.3,997.3 L829.8,996.6 L831.2,995.9 L832.6,995.2 L834.0,994.4 L835.4,993.7 L836.8,992.9 L838.1,992.1 L839.5,991.3 L840.9,990.5 L842.3,989.6 L843.7,988.8 L845.0,987.9 L846.4,987.1 L847.7,986.2 L849.1,985.3 L850.4,984.4 L851.8,983.5 L853.1,982.6 L854.5,981.7 L855.8,980.8 L857.1,980.0 L858.5,979.1 L859.8,978.2 L861.1,977.3 L862.4,976.4 L863.7,975.5 L865.0,974.7 L866.4,973.8 L867.7,973.0 L869.0,972.1 L870.3,971.3 L871.5,970.4 L872.8,969.6 L874.1,968.7 L875.4,967.9 L876.7,967.0 L878.0,966.2 L879.3,965.4 L880.6,964.5 L881.9,963.7 L883.2,962.8 L884.5,962.0 L885.7,961.2 L887.0,960.3 L888.3,959.5 L889.6,958.7 L890.9,957.8 L892.2,957.0 L893.5,956.2 L894.8,955.4 L896.1,954.5 L897.4,953.7 L898.7,952.9 L899.9,952.0 L901.2,951.2 L902.5,950.4 L903.8,949.5 L905.1,948.7 L906.4,947.9 L907.7,947.1 L909.0,946.2 L910.3,945.4 L911.6,944.6 L912.9,943.8 L914.2,942.9 L915.5,942.1 L916.8,941.3 L918.1,940.4 L919.4,939.6 L920.7,938.8 L922.0,938.0 L923.3,937.1 L924.6,936.3 L925.9,935.5 L927.2,934.7 L928.5,933.8 L929.8,933.0 L931.1,932.2 L932.4,931.4 L933.7,930.5 L935.0,929.7 L936.4,928.9 L937.7,928.1 L939.0,927.2 L940.3,926.4 L941.6,925.6 L942.9,924.8 L944.2,924.0 L945.6,923.1 L946.9,922.3 L948.2,921.5 L949.5,920.7 L950.9,919.9 L952.2,919.1 L953.5,918.3 L954.8,917.5 L956.2,916.7 L957.5,915.9 L958.8,915.1 L960.2,914.3 L961.5,913.5 L962.8,912.7 L964.2,911.9 L965.5,911.1 L966.8,910.4 L968.2,909.6 L969.5,908.8 L970.9,908.0 L972.2,907.3 L973.6,906.5 L974.9,905.7 L976.3,905.0 L977.6,904.2 L979.0,903.5 L980.3,902.7 L981.7,902.0 L983.1,901.2 L984.4,900.5 L985.8,899.7 L987.2,899.0 L988.5,898.3 L989.9,897.6 L991.3,896.8 L992.7,896.1 L994.0,895.4 L995.4,894.7 L996.8,894.0 L998.2,893.3 L999.6,892.6 L1001.0,891.9 L1002.3,891.2 L1003.7,890.5 L1005.1,889.9 L1006.5,889.2 L1007.9,888.5 L1009.3,887.9 L1010.7,887.2 L1012.2,886.6 L1013.6,885.9 L1015.0,885.3 L1016.4,884.7 L1017.8,884.0 L1019.2,883.4 L1020.7,882.8 L1022.1,882.2 L1023.5,881.6 L1024.9,881.0 L1026.4,880.4 L1027.8,879.8 L1029.3,879.2 L1030.7,878.7 L1032.1,878.1 L1033.6,877.5 L1035.0,877.0 L1036.5,876.5 L1037.9,875.9 L1039.4,875.4 L1040.9,874.9 L1042.3,874.4 L1043.8,873.9 L1045.3,873.4 L1046.7,873.0 L1048.2,872.5 L1049.7,872.1 L1051.2,871.6 L1052.6,871.2 L1054.1,870.8 L1055.6,870.4 L1057.1,870.0 L1058.6,869.6 L1060.1,869.2 L1061.6,868.9 L1063.1,868.5 L1064.6,868.2 L1066.1,867.9 L1067.6,867.6 L1069.2,867.3 L1070.7,867.0 L1072.2,866.7 L1073.7,866.5 L1075.2,866.3 L1076.8,866.0 L1078.3,865.8 L1079.8,865.7 L1081.4,865.5 L1082.9,865.3 L1084.5,865.2 L1086.0,865.1 L1087.6,865.0 L1089.1,864.9 L1090.7,864.8 L1092.2,864.7 L1093.8,864.7 L1095.3,864.6 L1096.9,864.6 L1098.4,864.6 L1100.0,864.6 L1101.6,864.6 L1103.1,864.6 L1104.7,864.6 L1106.2,864.7 L1107.8,864.7 L1109.4,864.8 L1110.9,864.9 L1112.5,865.0 L1114.0,865.1 L1115.6,865.2 L1117.1,865.3 L1118.7,865.4 L1120.2,865.5 L1121.8,865.7 L1123.3,865.8 L1124.9,866.0 L1126.4,866.1 L1128.0,866.3 L1129.5,866.5 L1131.0,866.7 L1132.6,866.9 L1134.1,867.1 L1135.6,867.3 L1137.2,867.5 L1138.7,867.7 L1140.2,868.0 L1141.7,868.2 L1143.3,868.5 L1144.8,868.7 L1146.3,869.0 L1147.8,869.3 L1149.3,869.5 L1150.9,869.8 L1152.4,870.1 L1153.9,870.4 L1155.4,870.7 L1156.9,871.0 L1158.4,871.4 L1159.9,871.7 L1161.4,872.0 L1162.9,872.3 L1164.4,872.7 L1165.9,873.0 L1167.4,873.4 L1168.9,873.8 L1170.4,874.1 L1171.9,874.5 L1173.4,874.9 L1174.9,875.3 L1176.4,875.7 L1177.9,876.1 L1179.4,876.5 L1180.8,876.9 L1182.3,877.3 L1183.8,877.7 L1185.3,878.1 L1186.8,878.6 L1188.3,879.0 L1189.7,879.4 L1191.2,879.9 L1192.7,880.3 L1194.2,880.8 L1195.6,881.2 L1197.1,881.7 L1198.6,882.2 L1200.1,882.6 L1201.5,883.1 L1203.0,883.6 L1204.5,884.1 L1206.0,884.6 L1207.4,885.0 L1208.9,885.5 L1210.4,886.0 L1211.8,886.5 L1213.3,887.0 L1214.8,887.6 L1216.2,888.1 L1217.7,888.6 L1219.1,889.1 L1220.6,889.6 L1222.1,890.1 L1223.5,890.7 L1225.0,891.2 L1226.4,891.7 L1227.9,892.3 L1229.4,892.8 L1230.8,893.3 L1232.3,893.9 L1233.7,894.4 L1235.2,895.0 L1236.6,895.5 L1238.1,896.1 L1239.6,896.6 L1241.0,897.2 L1242.5,897.7 L1243.9,898.3 L1245.4,898.8 L1246.8,899.4 L1248.3,900.0 L1249.7,900.5 L1251.2,901.1 L1252.6,901.6 L1254.1,902.2 L1255.6,902.8 L1257.0,903.3 L1258.5,903.9 L1259.9,904.5 L1261.4,905.0 L1262.8,905.6 L1264.3,906.2 L1265.7,906.7 L1267.2,907.3 L1268.6,907.8 L1270.1,908.4 L1271.5,909.0 L1273.0,909.5 L1274.4,910.1 L1275.9,910.7 L1277.3,911.2 L1278.8,911.8 L1280.3,912.3 L1281.7,912.9 L1283.2,913.4 L1284.6,914.0 L1286.1,914.5 L1287.5,915.1 L1289.0,915.6 L1290.4,916.2 L1291.9,916.7 L1293.4,917.3 L1294.8,917.8 L1296.3,918.4 L1297.7,918.9 L1299.2,919.4 L1300.6,920.0 L1302.1,920.5 L1303.6,921.0 L1305.0,921.5 L1306.5,922.1 L1308.0,922.6 L1309.4,923.1 L1310.9,923.6 L1312.3,924.1 L1313.8,924.6 L1315.3,925.1 L1316.7,925.6 L1318.2,926.1 L1319.7,926.6 L1321.1,927.1 L1322.6,927.6 L1324.1,928.0 L1325.6,928.5 L1327.0,929.0 L1328.5,929.4 L1330.0,929.9 L1331.5,930.3 L1332.9,930.8 L1334.4,931.2 L1335.9,931.7 L1337.4,932.1 L1338.9,932.5 L1340.3,933.0 L1341.8,933.4 L1343.3,933.8 L1344.8,934.2 L1346.3,934.6 L1347.8,935.0 L1349.3,935.4 L1350.7,935.8 L1352.2,936.2 L1353.7,936.5 L1355.2,936.9 L1356.7,937.3 L1358.2,937.6 L1359.7,938.0 L1361.2,938.3 L1362.7,938.6 L1364.2,939.0 L1365.7,939.3 L1367.2,939.6 L1368.7,939.9 L1370.3,940.2 L1371.8,940.5 L1373.3,940.8 L1374.8,941.1 L1376.3,941.3 L1377.8,941.6 L1379.3,941.8 L1380.9,942.1 L1382.4,942.3 L1383.9,942.6 L1385.4,942.8 L1387.0,943.0 L1388.5,943.2 L1390.0,943.4 L1391.6,943.6 L1393.1,943.8 L1394.6,943.9 L1396.2,944.1 L1397.7,944.3 L1399.2,944.4 L1400.8,944.6 L1402.3,944.7 L1403.9,944.8 L1405.4,944.9 L1406.9,945.0 L1408.5,945.1 L1410.0,945.2 L1411.6,945.3 L1413.1,945.4 L1414.7,945.5 L1416.2,945.5 L1417.8,945.6 L1419.3,945.6 L1420.9,945.7 L1422.4,945.7 L1424.0,945.7 L1425.5,945.8 L1427.1,945.8 L1428.6,945.8 L1430.2,945.8 L1431.7,945.8 L1433.3,945.7 L1434.8,945.7 L1436.4,945.7 L1437.9,945.6 L1439.5,945.6 L1441.0,945.5 L1442.6,945.4 L1444.2,945.4 L1445.7,945.3 L1447.3,945.2 L1448.8,945.1 L1450.4,945.0 L1451.9,944.9 L1453.5,944.8 L1455.0,944.6 L1456.6,944.5 L1458.1,944.4 L1459.7,944.2 L1461.2,944.1 L1462.7,943.9 L1464.3,943.7 L1465.8,943.5 L1467.4,943.4 L1468.9,943.2 L1470.5,943.0 L1472.0,942.7 L1473.5,942.5 L1475.1,942.3 L1476.6,942.1 L1478.2,941.8 L1479.7,941.6 L1481.2,941.3 L1482.8,941.1 L1484.3,940.8 L1485.8,940.5 L1487.3,940.3 L1488.9,940.0 L1490.4,939.7 L1491.9,939.4 L1493.4,939.0 L1495.0,938.7 L1496.5,938.4 L1498.0,938.1 L1499.5,937.7 L1501.0,937.4 L1502.5,937.0 L1504.0,936.7 L1505.5,936.3 L1507.1,935.9 L1508.6,935.5 L1510.1,935.1 L1511.6,934.7 L1513.0,934.3 L1514.5,933.9 L1516.0,933.5 L1517.5,933.1 L1519.0,932.6 L1520.5,932.2 L1522.0,931.8 L1523.4,931.3 L1524.9,930.8 L1526.4,930.4 L1527.9,929.9 L1529.3,929.4 L1530.8,928.9 L1532.3,928.4 L1533.7,927.9 L1535.2,927.4 L1536.6,926.9 L1538.1,926.4 L1539.5,925.8 L1541.0,925.3 L1542.4,924.7 L1543.8,924.2 L1545.3,923.6 L1547.0,923.1" stroke="#D95319" stroke-width="7" fill="none" stroke-linejoin="round" shape-rendering="crispEdges"/>
<path d="M232.0,166.1 L232.1,167.8 L232.3,169.4 L232.6,171.0 L232.8,172.6 L233.1,174.3 L233.3,175.9 L233.6,177.5 L233.9,179.2 L234.1,180.8 L234.4,182.4 L234.6,184.1 L234.9,185.7 L235.2,187.3 L235.4,188.9 L235.7,190.6 L235.9,192.2 L236.2,193.8 L236.4,195.5 L236.7,197.1 L237.0,198.7 L237.2,200.4 L237.5,202.0 L237.7,203.6 L238.0,205.3 L238.3,206.9 L238.5,208.5 L238.8,210.2 L239.0,211.8 L239.3,213.4 L239.6,215.1 L239.8,216.7 L240.1,218.3 L240.3,220.0 L240.6,221.6 L240.9,223.2 L241.1,224.9 L241.4,226.5 L241.6,228.1 L241.9,229.8 L242.2,231.4 L242.4,233.0 L242.7,234.7 L242.9,236.3 L243.2,237.9 L243.5,239.6 L243.7,241.2 L244.0,242.9 L244.3,244.5 L244.5,246.1 L244.8,247.8 L245.1,249.4 L245.3,251.0 L245.6,252.7 L245.9,254.3 L246.1,255.9 L246.4,257.6 L246.6,259.2 L246.9,260.8 L247.2,262.5 L247.4,264.1 L247.7,265.7 L248.0,267.4 L248.3,269.0 L248.5,270.6 L248.8,272.3 L249.1,273.9 L249.3,275.6 L249.6,277.2 L249.9,278.8 L250.1,280.5 L250.4,282.1 L250.7,283.7 L251.0,285.4 L251.2,287.0 L251.5,288.6 L251.8,290.3 L252.1,291.9 L252.3,293.5 L252.6,295.2 L252.9,296.8 L253.2,298.4 L253.5,300.1 L253.7,301.7 L254.0,303.3 L254.3,305.0 L254.6,306.6 L254.9,308.3 L255.1,309.9 L255.4,311.5 L255.7,313.2 L256.0,314.8 L256.3,316.4 L256.6,318.1 L256.8,319.7 L257.1,321.3 L257.4,323.0 L257.7,324.6 L258.0,326.2 L258.3,327.9 L258.6,329.5 L258.9,331.1 L259.2,332.8 L259.4,334.4 L259.7,336.0 L260.0,337.7 L260.3,339.3 L260.6,340.9 L260.9,342.6 L261.2,344.2 L261.5,345.8 L261.8,347.4 L262.1,349.1 L262.4,350.7 L262.7,352.3 L263.0,354.0 L263.3,355.6 L263.6,357.2 L263.9,358.9 L264.2,360.5 L264.5,362.1 L264.9,363.8 L265.2,365.4 L265.5,367.0 L265.8,368.6 L266.1,370.3 L266.4,371.9 L266.7,373.5 L267.0,375.2 L267.3,376.8 L267.7,378.4 L268.0,380.0 L268.3,381.7 L268.6,383.3 L268.9,384.9 L269.3,386.5 L269.6,388.2 L269.9,389.8 L270.2,391.4 L270.6,393.1 L270.9,394.7 L271.2,396.3 L271.5,397.9 L271.9,399.6 L272.2,401.2 L272.5,402.8 L272.9,404.4 L273.2,406.1 L273.5,407.7 L273.9,409.3 L274.2,410.9 L274.5,412.5 L274.9,414.2 L275.2,415.8 L275.6,417.4 L275.9,419.0 L276.3,420.7 L276.6,422.3 L277.0,423.9 L277.3,425.5 L277.7,427.1 L278.0,428.8 L278.4,430.4 L278.7,432.0 L279.1,433.6 L279.4,435.2 L279.8,436.8 L280.1,438.5 L280.5,440.1 L280.9,441.7 L281.2,443.3 L281.6,444.9 L282.0,446.6 L282.3,448.2 L282.7,449.8 L283.1,451.4 L283.4,453.0 L283.8,454.6 L284.2,456.2 L284.5,457.9 L284.9,459.5 L285.3,461.1 L285.7,462.7 L286.1,464.3 L286.4,465.9 L286.8,467.5 L287.2,469.1 L287.6,470.7 L288.0,472.4 L288.4,474.0 L288.8,475.6 L289.2,477.2 L289.6,478.8 L290.0,480.4 L290.4,482.0 L290.8,483.6 L291.2,485.2 L291.6,486.8 L292.0,488.4 L292.4,490.0 L292.8,491.6 L293.2,493.2 L293.6,494.9 L294.0,496.5 L294.4,498.1 L294.8,499.7 L295.2,501.3 L295.7,502.9 L296.1,504.5 L296.5,506.1 L296.9,507.7 L297.4,509.3 L297.8,510.9 L298.2,512.5 L298.6,514.1 L299.1,515.7 L299.5,517.3 L299.9,518.9 L300.4,520.4 L300.8,522.0 L301.3,523.6 L301.7,525.2 L302.1,526.8 L302.6,528.4 L303.0,530.0 L303.5,531.6 L303.9,533.2 L304.4,534.8 L304.8,536.4 L305.3,538.0 L305.8,539.6 L306.2,541.2 L306.7,542.7 L307.1,544.3 L307.6,545.9 L308.1,547.5 L308.6,549.1 L309.0,550.7 L309.5,552.3 L310.0,553.8 L310.5,555.4 L310.9,557.0 L311.4,558.6 L311.9,560.2 L312.4,561.8 L312.9,563.3 L313.4,564.9 L313.9,566.5 L314.3,568.1 L314.8,569.7 L315.3,571.2 L315.8,572.8 L316.3,574.4 L316.8,576.0 L317.3,577.5 L317.9,579.1 L318.4,580.7 L318.9,582.3 L319.4,583.8 L319.9,585.4 L320.4,587.0 L320.9,588.6 L321.5,590.1 L322.0,591.7 L322.5,593.3 L323.0,594.8 L323.6,596.4 L324.1,598.0 L324.6,599.5 L325.2,601.1 L325.7,602.7 L326.3,604.2 L326.8,605.8 L327.4,607.4 L327.9,608.9 L328.5,610.5 L329.0,612.1 L329.6,613.6 L330.1,615.2 L330.7,616.7 L331.2,618.3 L331.8,619.8 L332.4,621.4 L332.9,623.0 L333.5,624.5 L334.1,626.1 L334.7,627.6 L335.3,629.2 L335.8,630.7 L336.4,632.3 L337.0,633.8 L337.6,635.4 L338.2,636.9 L338.8,638.4 L339.4,640.0 L340.0,641.5 L340.6,643.1 L341.3,644.6 L341.9,646.1 L342.5,647.7 L343.1,649.2 L343.8,650.7 L344.4,652.3 L345.0,653.8 L345.7,655.3 L346.3,656.9 L347.0,658.4 L347.6,659.9 L348.3,661.4 L348.9,662.9 L349.6,664.5 L350.3,666.0 L350.9,667.5 L351.6,669.0 L352.3,670.5 L353.0,672.0 L353.7,673.5 L354.4,675.0 L355.1,676.5 L355.8,678.0 L356.5,679.5 L357.2,681.0 L358.0,682.5 L358.7,684.0 L359.4,685.5 L360.2,686.9 L360.9,688.4 L361.7,689.9 L362.4,691.4 L363.2,692.8 L364.0,694.3 L364.7,695.8 L365.5,697.2 L366.3,698.7 L367.1,700.2 L367.9,701.6 L368.7,703.1 L369.5,704.5 L370.3,706.0 L371.2,707.4 L372.0,708.8 L372.8,710.3 L373.7,711.7 L374.5,713.1 L375.4,714.5 L376.2,715.9 L377.1,717.3 L378.0,718.7 L378.9,720.1 L379.8,721.5 L380.7,722.9 L381.6,724.3 L382.5,725.7 L383.4,727.1 L384.4,728.4 L385.3,729.8 L386.3,731.1 L387.2,732.5 L388.2,733.8 L389.2,735.2 L390.1,736.5 L391.1,737.9 L392.1,739.2 L393.1,740.5 L394.2,741.8 L395.2,743.1 L396.2,744.4 L397.3,745.7 L398.3,747.0 L399.4,748.3 L400.4,749.5 L401.5,750.8 L402.6,752.0 L403.7,753.3 L404.8,754.5 L405.9,755.8 L407.0,757.0 L408.1,758.2 L409.2,759.4 L410.4,760.7 L411.5,761.9 L412.7,763.0 L413.8,764.2 L415.0,765.4 L416.2,766.6 L417.3,767.8 L418.5,768.9 L419.7,770.1 L420.9,771.2 L422.1,772.3 L423.3,773.5 L424.6,774.6 L425.8,775.7 L427.0,776.8 L428.3,777.9 L429.5,779.0 L430.7,780.1 L432.0,781.1 L433.3,782.2 L434.5,783.3 L435.8,784.3 L437.1,785.3 L438.4,786.4 L439.7,787.4 L441.0,788.4 L442.3,789.4 L443.6,790.4 L444.9,791.4 L446.2,792.4 L447.6,793.4 L448.9,794.3 L450.3,795.3 L451.6,796.2 L452.9,797.2 L454.3,798.1 L455.7,799.0 L457.0,799.9 L458.4,800.8 L459.8,801.7 L461.2,802.6 L462.5,803.5 L463.9,804.3 L465.3,805.2 L466.7,806.1 L468.1,806.9 L469.5,807.7 L471.0,808.6 L472.4,809.4 L473.8,810.2 L475.2,811.0 L476.7,811.8 L478.1,812.6 L479.5,813.4 L481.0,814.2 L482.4,815.0 L483.9,815.8 L485.3,816.6 L486.8,817.3 L488.2,818.1 L489.7,818.8 L491.2,819.6 L492.6,820.3 L494.1,821.0 L495.6,821.8 L497.1,822.5 L498.6,823.2 L500.0,823.9 L501.5,824.7 L503.0,825.4 L504.5,826.1 L506.0,826.8 L507.5,827.5 L509.0,828.1 L510.5,828.8 L512.0,829.5 L513.5,830.2 L515.0,830.9 L516.6,831.5 L518.1,832.2 L519.6,832.9 L521.1,833.5 L522.6,834.2 L524.2,834.9 L525.7,835.5 L527.2,836.2 L528.7,836.8 L530.3,837.5 L531.8,838.1 L533.3,838.8 L534.9,839.4 L536.4,840.0 L538.0,840.7 L539.5,841.3 L541.0,841.9 L542.6,842.6 L544.1,843.2 L545.7,843.8 L547.2,844.5 L548.7,845.1 L550.3,845.7 L551.8,846.4 L553.4,847.0 L554.9,847.6 L556.5,848.2 L558.0,848.9 L559.6,849.5 L561.1,850.1 L562.7,850.8 L564.2,851.4 L565.8,852.0 L567.3,852.6 L568.9,853.3 L570.4,853.9 L572.0,854.5 L573.5,855.2 L575.0,855.8 L576.6,856.4 L578.1,857.1 L579.7,857.7 L581.2,858.4 L582.8,859.0 L584.3,859.6 L585.8,860.3 L587.4,860.9 L588.9,861.6 L590.5,862.2 L592.0,862.9 L593.5,863.5 L595.1,864.2 L596.6,864.8 L598.2,865.4 L599.7,866.1 L601.2,866.7 L602.8,867.4 L604.3,868.0 L605.9,868.6 L607.4,869.3 L608.9,869.9 L610.5,870.5 L612.0,871.1 L613.6,871.7 L615.1,872.4 L616.7,873.0 L618.2,873.6 L619.8,874.2 L621.3,874.8 L622.9,875.3 L624.4,875.9 L626.0,876.5 L627.5,877.1 L629.1,877.6 L630.6,878.2 L632.2,878.7 L633.7,879.2 L635.3,879.8 L636.9,880.3 L638.4,880.8 L640.0,881.3 L641.6,881.8 L643.1,882.3 L644.7,882.8 L646.3,883.2 L647.8,883.7 L649.4,884.1 L651.0,884.5 L652.6,885.0 L654.2,885.4 L655.8,885.8 L657.3,886.2 L658.9,886.5 L660.5,886.9 L662.1,887.2 L663.7,887.6 L665.3,887.9 L667.0,888.2 L668.6,888.5 L670.2,888.8 L671.8,889.0 L673.4,889.3 L675.0,889.5 L676.7,889.7 L678.3,889.9 L679.9,890.1 L681.6,890.3 L683.2,890.5 L684.9,890.6 L686.5,890.7 L688.2,890.8 L689.8,890.9 L691.5,891.0 L693.1,891.0 L694.8,891.1 L696.5,891.1 L698.1,891.1 L699.8,891.1 L701.5,891.1 L703.1,891.0 L704.8,891.0 L706.4,890.9 L708.1,890.8 L709.8,890.7 L711.4,890.6 L713.1,890.4 L714.7,890.3 L716.4,890.1 L718.1,889.9 L719.7,889.7 L721.4,889.5 L723.0,889.2 L724.7,888.9 L726.3,888.7 L727.9,888.4 L729.6,888.1 L731.2,887.7 L732.8,887.4 L734.4,887.0 L736.1,886.6 L737.7,886.3 L739.3,885.8 L740.9,885.4 L742.5,885.0 L744.1,884.5 L745.6,884.0 L747.2,883.5 L748.8,883.0 L750.3,882.5 L751.9,881.9 L753.4,881.3 L755.0,880.8 L756.5,880.2 L758.0,879.5 L759.5,878.9 L761.1,878.3 L762.6,877.6 L764.1,876.9 L765.5,876.2 L767.0,875.5 L768.5,874.8 L770.0,874.0 L771.4,873.3 L772.9,872.5 L774.3,871.7 L775.8,871.0 L777.2,870.2 L778.7,869.3 L780.1,868.5 L781.5,867.7 L782.9,866.8 L784.3,865.9 L785.7,865.1 L787.1,864.2 L788.5,863.3 L789.9,862.4 L791.3,861.5 L792.6,860.5 L794.0,859.6 L795.4,858.6 L796.7,857.7 L798.1,856.7 L799.4,855.7 L800.8,854.8 L802.1,853.8 L803.5,852.8 L804.8,851.8 L806.1,850.7 L807.4,849.7 L808.7,848.7 L810.0,847.7 L811.3,846.6 L812.7,845.6 L813.9,844.5 L815.2,843.4 L816.5,842.4 L817.8,841.3 L819.1,840.2 L820.4,839.2 L821.6,838.1 L822.9,837.0 L824.2,835.9 L825.4,834.8 L826.7,833.7 L827.9,832.6 L829.2,831.5 L830.4,830.4 L831.7,829.3 L832.9,828.1 L834.2,827.0 L835.4,825.9 L836.6,824.8 L837.9,823.7 L839.1,822.5 L840.3,821.4 L841.5,820.3 L842.7,819.2 L843.9,818.0 L845.2,816.9 L846.4,815.7 L847.6,814.6 L848.8,813.5 L850.0,812.3 L851.2,811.2 L852.3,810.0 L853.5,808.9 L854.7,807.7 L855.9,806.6 L857.1,805.4 L858.3,804.2 L859.4,803.1 L860.6,801.9 L861.8,800.7 L863.0,799.6 L864.1,798.4 L865.3,797.2 L866.5,796.1 L867.6,794.9 L868.8,793.7 L869.9,792.5 L871.1,791.3 L872.2,790.2 L873.4,789.0 L874.5,787.8 L875.7,786.6 L876.8,785.4 L878.0,784.2 L879.1,783.0 L880.2,781.8 L881.4,780.6 L882.5,779.4 L883.6,778.2 L884.8,777.0 L885.9,775.8 L887.0,774.6 L888.1,773.4 L889.3,772.2 L890.4,771.0 L891.5,769.8 L892.6,768.6 L893.7,767.3 L894.9,766.1 L896.0,764.9 L897.1,763.7 L898.2,762.5 L899.3,761.2 L900.4,760.0 L901.5,758.8 L902.6,757.6 L903.7,756.3 L904.8,755.1 L905.9,753.9 L907.0,752.6 L908.1,751.4 L909.2,750.2 L910.3,748.9 L911.4,747.7 L912.5,746.5 L913.6,745.2 L914.7,744.0 L915.8,742.7 L916.9,741.5 L918.0,740.3 L919.1,739.0 L920.2,737.8 L921.3,736.5 L922.4,735.3 L923.5,734.0 L924.6,732.8 L925.6,731.5 L926.7,730.3 L927.8,729.0 L928.9,727.8 L930.0,726.5 L931.1,725.3 L932.2,724.0 L933.3,722.8 L934.4,721.5 L935.5,720.3 L936.6,719.0 L937.7,717.8 L938.8,716.5 L939.9,715.3 L941.0,714.1 L942.1,712.8 L943.2,711.6 L944.3,710.3 L945.4,709.1 L946.5,707.9 L947.6,706.6 L948.7,705.4 L949.8,704.2 L950.9,702.9 L952.0,701.7 L953.1,700.5 L954.3,699.2 L955.4,698.0 L956.5,696.8 L957.6,695.6 L958.8,694.4 L959.9,693.2 L961.0,692.0 L962.2,690.7 L963.3,689.5 L964.5,688.3 L965.6,687.1 L966.8,686.0 L967.9,684.8 L969.1,683.6 L970.2,682.4 L971.4,681.2 L972.5,680.0 L973.7,678.9 L974.9,677.7 L976.1,676.5 L977.2,675.4 L978.4,674.2 L979.6,673.1 L980.8,671.9 L982.0,670.8 L983.2,669.6 L984.4,668.5 L985.6,667.4 L986.8,666.2 L988.1,665.1 L989.3,664.0 L990.5,662.9 L991.7,661.8 L993.0,660.7 L994.2,659.6 L995.5,658.5 L996.7,657.4 L998.0,656.3 L999.3,655.3 L1000.5,654.2 L1001.8,653.1 L1003.1,652.1 L1004.4,651.0 L1005.7,650.0 L1007.0,649.0 L1008.3,647.9 L1009.6,646.9 L1010.9,645.9 L1012.2,644.9 L1013.5,643.9 L1014.9,642.9 L1016.2,641.9 L1017.6,640.9 L1018.9,639.9 L1020.3,639.0 L1021.7,638.0 L1023.0,637.1 L1024.4,636.1 L1025.8,635.2 L1027.2,634.2 L1028.6,633.3 L1030.0,632.4 L1031.4,631.5 L1032.8,630.6 L1034.3,629.7 L1035.7,628.9 L1037.1,628.0 L1038.6,627.2 L1040.0,626.3 L1041.5,625.5 L1042.9,624.7 L1044.4,623.9 L1045.9,623.1 L1047.4,622.3 L1048.8,621.5 L1050.3,620.8 L1051.8,620.0 L1053.3,619.3 L1054.8,618.6 L1056.3,617.9 L1057.8,617.2 L1059.3,616.5 L1060.9,615.8 L1062.4,615.2 L1063.9,614.6 L1065.5,613.9 L1067.0,613.3 L1068.5,612.7 L1070.1,612.2 L1071.6,611.6 L1073.2,611.1 L1074.7,610.6 L1076.3,610.0 L1077.9,609.6 L1079.4,609.1 L1081.0,608.6 L1082.6,608.2 L1084.2,607.8 L1085.7,607.4 L1087.3,607.0 L1088.9,606.6 L1090.5,606.3 L1092.1,606.0 L1093.7,605.6 L1095.3,605.4 L1096.9,605.1 L1098.5,604.9 L1100.1,604.6 L1101.7,604.4 L1103.3,604.2 L1104.9,604.1 L1106.5,603.9 L1108.2,603.8 L1109.8,603.7 L1111.4,603.6 L1113.0,603.6 L1114.6,603.6 L1116.3,603.6 L1117.9,603.6 L1119.5,603.6 L1121.2,603.7 L1122.8,603.8 L1124.4,603.9 L1126.0,604.0 L1127.7,604.1 L1129.3,604.3 L1130.9,604.5 L1132.6,604.7 L1134.2,604.9 L1135.8,605.2 L1137.5,605.4 L1139.1,605.7 L1140.7,606.0 L1142.3,606.3 L1144.0,606.7 L1145.6,607.0 L1147.2,607.4 L1148.8,607.8 L1150.5,608.2 L1152.1,608.6 L1153.7,609.0 L1155.3,609.4 L1156.9,609.9 L1158.5,610.4 L1160.1,610.9 L1161.7,611.4 L1163.3,611.9 L1164.9,612.4 L1166.5,612.9 L1168.0,613.5 L1169.6,614.0 L1171.2,614.6 L1172.8,615.2 L1174.3,615.8 L1175.9,616.4 L1177.4,617.0 L1179.0,617.6 L1180.5,618.3 L1182.1,618.9 L1183.6,619.6 L1185.1,620.2 L1186.6,620.9 L1188.2,621.6 L1189.7,622.3 L1191.2,623.0 L1192.7,623.7 L1194.2,624.4 L1195.7,625.1 L1197.2,625.8 L1198.7,626.6 L1200.2,627.3 L1201.7,628.1 L1203.2,628.8 L1204.7,629.6 L1206.2,630.4 L1207.6,631.1 L1209.1,631.9 L1210.6,632.7 L1212.1,633.5 L1213.5,634.3 L1215.0,635.1 L1216.5,635.9 L1217.9,636.7 L1219.4,637.5 L1220.8,638.3 L1222.3,639.1 L1223.7,640.0 L1225.2,640.8 L1226.6,641.6 L1228.1,642.5 L1229.5,643.3 L1230.9,644.1 L1232.4,645.0 L1233.8,645.8 L1235.2,646.7 L1236.7,647.5 L1238.1,648.4 L1239.5,649.2 L1240.9,650.1 L1242.4,650.9 L1243.8,651.8 L1245.2,652.6 L1246.6,653.5 L1248.0,654.4 L1249.5,655.2 L1250.9,656.1 L1252.3,657.0 L1253.7,657.9 L1255.1,658.7 L1256.5,659.6 L1257.9,660.5 L1259.3,661.4 L1260.7,662.3 L1262.1,663.1 L1263.5,664.0 L1264.9,664.9 L1266.3,665.8 L1267.7,666.7 L1269.1,667.6 L1270.5,668.5 L1271.8,669.4 L1273.2,670.3 L1274.6,671.2 L1276.0,672.1 L1277.4,673.1 L1278.7,674.0 L1280.1,674.9 L1281.5,675.8 L1282.9,676.7 L1284.2,677.6 L1285.6,678.6 L1287.0,679.5 L1288.3,680.4 L1289.7,681.3 L1291.1,682.3 L1292.4,683.2 L1293.8,684.1 L1295.1,685.1 L1296.5,686.0 L1297.9,687.0 L1299.2,687.9 L1300.6,688.9 L1301.9,689.8 L1303.3,690.8 L1304.6,691.7 L1306.0,692.7 L1307.3,693.6 L1308.6,694.6 L1310.0,695.5 L1311.3,696.5 L1312.7,697.5 L1314.0,698.4 L1315.3,699.4 L1316.7,700.4 L1318.0,701.4 L1319.3,702.3 L1320.7,703.3 L1322.0,704.3 L1323.3,705.3 L1324.6,706.3 L1326.0,707.2 L1327.3,708.2 L1328.6,709.2 L1329.9,710.2 L1331.3,711.2 L1332.6,712.2 L1333.9,713.2 L1335.2,714.2 L1336.5,715.2 L1337.8,716.2 L1339.1,717.2 L1340.5,718.2 L1341.8,719.2 L1343.1,720.2 L1344.4,721.2 L1345.7,722.3 L1347.0,723.3 L1348.3,724.3 L1349.6,725.3 L1350.9,726.3 L1352.2,727.4 L1353.5,728.4 L1354.8,729.4 L1356.1,730.4 L1357.4,731.5 L1358.7,732.5 L1360.0,733.5 L1361.3,734.6 L1362.6,735.6 L1363.9,736.6 L1365.2,737.7 L1366.5,738.7 L1367.7,739.7 L1369.0,740.8 L1370.3,741.8 L1371.6,742.9 L1372.9,743.9 L1374.2,745.0 L1375.5,746.0 L1376.8,747.0 L1378.0,748.1 L1379.3,749.1 L1380.6,750.2 L1381.9,751.2 L1383.2,752.3 L1384.5,753.3 L1385.8,754.4 L1387.0,755.4 L1388.3,756.5 L1389.6,757.5 L1390.9,758.6 L1392.2,759.6 L1393.5,760.7 L1394.7,761.8 L1396.0,762.8 L1397.3,763.9 L1398.6,764.9 L1399.9,766.0 L1401.1,767.0 L1402.4,768.1 L1403.7,769.1 L1405.0,770.2 L1406.3,771.2 L1407.6,772.3 L1408.8,773.3 L1410.1,774.4 L1411.4,775.4 L1412.7,776.5 L1414.0,777.5 L1415.3,778.6 L1416.5,779.6 L1417.8,780.7 L1419.1,781.7 L1420.4,782.8 L1421.7,783.8 L1423.0,784.9 L1424.3,785.9 L1425.5,787.0 L1426.8,788.0 L1428.1,789.1 L1429.4,790.1 L1430.7,791.2 L1432.0,792.2 L1433.3,793.2 L1434.6,794.3 L1435.9,795.3 L1437.2,796.4 L1438.5,797.4 L1439.8,798.4 L1441.0,799.5 L1442.3,800.5 L1443.6,801.5 L1444.9,802.6 L1446.2,803.6 L1447.5,804.6 L1448.8,805.6 L1450.1,806.7 L1451.4,807.7 L1452.8,808.7 L1454.1,809.7 L1455.4,810.7 L1456.7,811.8 L1458.0,812.8 L1459.3,813.8 L1460.6,814.8 L1461.9,815.8 L1463.2,816.8 L1464.6,817.8 L1465.9,818.8 L1467.2,819.8 L1468.5,820.8 L1469.8,821.8 L1471.2,822.8 L1472.5,823.8 L1473.8,824.8 L1475.1,825.8 L1476.5,826.8 L1477.8,827.7 L1479.1,828.7 L1480.5,829.7 L1481.8,830.7 L1483.1,831.6 L1484.5,832.6 L1485.8,833.6 L1487.1,834.5 L1488.5,835.5 L1489.8,836.5 L1491.2,837.4 L1492.5,838.4 L1493.9,839.3 L1495.2,840.3 L1496.6,841.2 L1497.9,842.2 L1499.3,843.1 L1500.7,844.1 L1502.0,845.0 L1503.4,845.9 L1504.8,846.9 L1506.1,847.8 L1507.5,848.7 L1508.9,849.6 L1510.2,850.6 L1511.6,851.5 L1513.0,852.4 L1514.4,853.3 L1515.8,854.2 L1517.1,855.1 L1518.5,856.0 L1519.9,856.9 L1521.3,857.8 L1522.7,858.7 L1524.1,859.6 L1525.5,860.5 L1526.9,861.3 L1528.3,862.2 L1529.7,863.1 L1531.1,863.9 L1532.5,864.8 L1534.0,865.7 L1535.4,866.5 L1536.8,867.4 L1538.2,868.2 L1539.6,869.1 L1541.1,869.9 L1542.5,870.8 L1543.9,871.6 L1545.4,872.4 L1547.0,873.3" stroke="#EDB120" stroke-width="7" fill="none" stroke-linejoin="round" shape-rendering="crispEdges"/>
<g font-family="'Liberation Serif', 'DejaVu Serif', serif" font-size="70" fill="#262626" stroke="#262626" stroke-width="0.8"><text x="210" y="1051.1" text-anchor="end">1</text><text x="210" y="911.5" text-anchor="end">1.5</text><text x="210" y="771.9" text-anchor="end">2</text><text x="210" y="632.3" text-anchor="end">2.5</text><text x="210" y="492.7" text-anchor="end">3</text><text x="210" y="353.1" text-anchor="end">3.5</text><text x="210" y="213.5" text-anchor="end">4</text><text x="210" y="73.9" text-anchor="end">4.5</text><text x="232.0" y="1114" text-anchor="middle">2</text><text x="378.1" y="1114" text-anchor="middle">3</text><text x="524.2" y="1114" text-anchor="middle">4</text><text x="670.3" y="1114" text-anchor="middle">5</text><text x="816.4" y="1114" text-anchor="middle">6</text><text x="962.6" y="1114" text-anchor="middle">7</text><text x="1108.7" y="1114" text-anchor="middle">8</text><text x="1254.8" y="1114" text-anchor="middle">9</text><text x="1400.9" y="1114" text-anchor="middle">10</text><text x="1547.0" y="1114" text-anchor="middle">11</text></g>
<text x="617" y="1209" font-family="'Liberation Serif', 'DejaVu Serif', serif" font-size="81" fill="#262626" stroke="#262626" stroke-width="0.8" textLength="543" lengthAdjust="spacingAndGlyphs">Frequency(GHz)</text>
<text transform="translate(84,661) rotate(-90)" x="0" y="0" font-family="'Liberation Serif', 'DejaVu Serif', serif" font-size="81" fill="#262626" stroke="#262626" stroke-width="0.8" textLength="231" lengthAdjust="spacingAndGlyphs">VSWR</text>
<path d="M1112,136.5H1234" stroke="#0072BD" stroke-width="7"/><text y="154.0" font-family="'Liberation Serif', 'DejaVu Serif', serif" font-size="70" fill="#000" stroke="#000" stroke-width="0.8"><tspan x="1241">g</tspan><tspan x="1275.8" dy="5" textLength="56.3" lengthAdjust="spacingAndGlyphs">=</tspan><tspan x="1330.3" dy="-5">2 </tspan><tspan x="1387.2" textLength="116.2" lengthAdjust="spacingAndGlyphs">mm</tspan></text><path d="M1112,220.5H1234" stroke="#D95319" stroke-width="7"/><text y="237.5" font-family="'Liberation Serif', 'DejaVu Serif', serif" font-size="70" fill="#000" stroke="#000" stroke-width="0.8"><tspan x="1241">g</tspan><tspan x="1275.8" dy="5" textLength="56.3" lengthAdjust="spacingAndGlyphs">=</tspan><tspan x="1330.3" dy="-5">1 </tspan><tspan x="1387.2" textLength="116.2" lengthAdjust="spacingAndGlyphs">mm</tspan></text><path d="M1112,304.5H1234" stroke="#EDB120" stroke-width="7"/><text y="321.0" font-family="'Liberation Serif', 'DejaVu Serif', serif" font-size="70" fill="#000" stroke="#000" stroke-width="0.8"><tspan x="1241">g</tspan><tspan x="1275.8" dy="5" textLength="56.3" lengthAdjust="spacingAndGlyphs">=</tspan><tspan x="1330.3" dy="-5">0 </tspan><tspan x="1387.2" textLength="116.2" lengthAdjust="spacingAndGlyphs">mm</tspan></text>
</svg></body></html>
